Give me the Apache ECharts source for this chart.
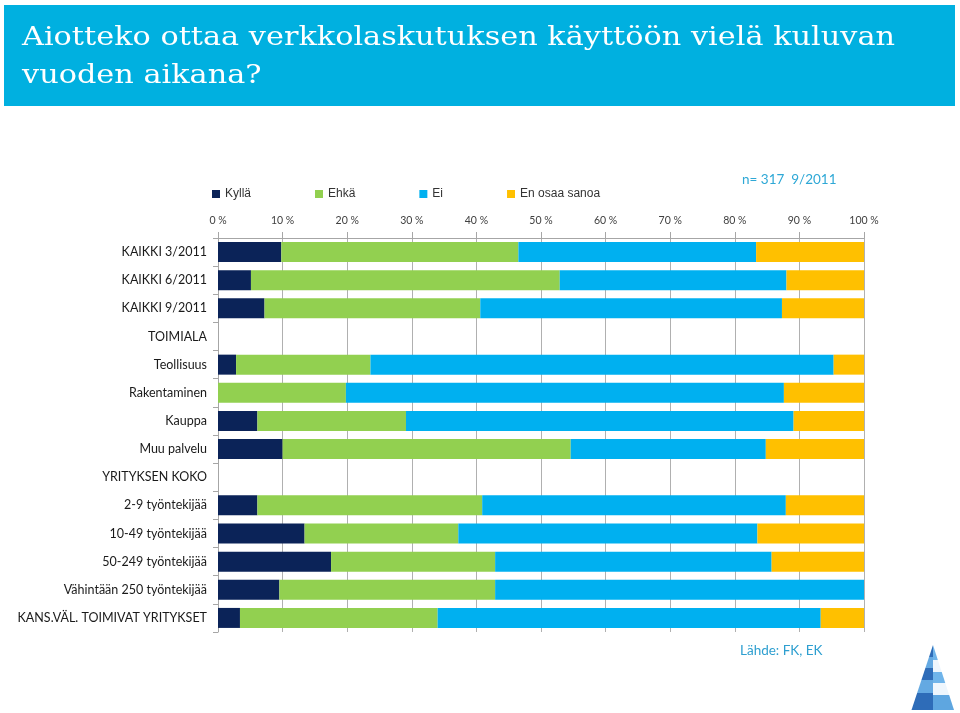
<!DOCTYPE html>
<html>
<head>
<meta charset="utf-8">
<script src="https://cdn.jsdelivr.net/npm/echarts@6/dist/echarts.min.js"></script>
<style>
html,body{margin:0;padding:0;background:#fff;}
#c{width:960px;height:713px;}
</style>
</head>
<body>
<div id="c"></div>
<script>
var categories = ['KAIKKI 3/2011','KAIKKI 6/2011','KAIKKI 9/2011','TOIMIALA','Teollisuus','Rakentaminen','Kauppa','Muu palvelu','YRITYKSEN KOKO','2-9 työntekijää','10-49 työntekijää','50-249 työntekijää','Vähintään 250 työntekijää','KANS.VÄL. TOIMIVAT YRITYKSET'];
var seriesNames = ['Kyllä','Ehkä','Ei','En osaa sanoa'];
var kylla = [9.8, 5.1, 7.2, '-', 2.8, 0, 6.1, 10.0, '-', 6.1, 13.4, 17.5, 9.5, 3.4];
var ehka  = [36.7, 47.8, 33.4, '-', 20.8, 19.8, 23.0, 44.6, '-', 34.8, 23.8, 25.4, 33.4, 30.6];
var ei    = [36.8, 35.1, 46.7, '-', 71.7, 67.8, 60.0, 30.2, '-', 47.0, 46.3, 42.8, 57.1, 59.3];
var eos   = [16.7, 12.0, 12.7, '-', 4.7, 12.4, 10.9, 15.2, '-', 12.1, 16.5, 14.3, 0, 6.7];
var colors = ['#0b2358','#92d050','#00b0f0','#ffc000'];
var titleLine1 = 'Aiotteko ottaa verkkolaskutuksen käyttöön vielä kuluvan';
var titleLine2 = 'vuoden aikana?';

var chart = echarts.init(document.getElementById('c'), null, {renderer:'canvas'});

// title horizontal fit
var titleFont = '26px "DejaVu Serif"';
var ctx = document.createElement('canvas').getContext('2d');
ctx.font = titleFont;
var w1 = ctx.measureText(titleLine1).width;
var sx = 873 / w1;

// pyramid logo (decoration)
var AX=933, AY=645, BY=710, LX=911.5, RX=954, MX=933;
function at(bx,y){return AX+(bx-AX)*(y-AY)/(BY-AY);}
function face(y0,y1,side,color){
  var pts = side==='L' ? [[at(LX,y0),y0],[at(MX,y0),y0],[at(MX,y1),y1],[at(LX,y1),y1]]
                       : [[at(MX,y0),y0],[at(RX,y0),y0],[at(RX,y1),y1],[at(MX,y1),y1]];
  return {type:'polygon', shape:{points:pts}, style:{fill:color}, silent:true};
}
var logo = [];
var lb = [645,657,668,680,693,710], lc = ['#2e6cb8','#64a9e2','#2e6cb8','#64a9e2','#2e6cb8'];
var rb = [645,660,672,683,695,710], rc = ['#6fb4ea','#eef6fd','#6fb4ea','#eef6fd','#5ea6e0'];
for (var i=0;i<5;i++){ logo.push(face(lb[i],lb[i+1],'L',lc[i])); logo.push(face(rb[i],rb[i+1],'R',rc[i])); }

var series = [kylla, ehka, ei, eos].map(function(d,i){
  return {name:seriesNames[i], type:'bar', stack:'total', data:d, barWidth:20,
    itemStyle:{color:colors[i]}, emphasis:{disabled:true}};
});

chart.setOption({
  animation:false,
  backgroundColor:'#fff',
  color:colors,
  legend:{
    data:seriesNames, left:207, top:183, icon:'rect', itemWidth:8, itemHeight:8, itemGap:64,
    textStyle:{fontFamily:'Liberation Sans', fontSize:12, color:'#333'}
  },
  grid:{left:218, right:96, top:238, bottom:81, containLabel:false},
  xAxis:{
    type:'value', position:'top', min:0, max:100, interval:10,
    axisLine:{show:true, lineStyle:{color:'#a6a6a6'}},
    axisTick:{show:true, length:6, lineStyle:{color:'#a6a6a6'}},
    splitLine:{show:true, lineStyle:{color:'#b0b0b0', width:1}},
    axisLabel:{formatter:function(v){return v+' %';}, margin:12, fontFamily:'Lato', fontSize:10.5, color:'#404040'}
  },
  yAxis:{
    type:'category', data:categories, inverse:true,
    axisLine:{show:true, lineStyle:{color:'#a6a6a6'}},
    axisTick:{show:true, length:5, lineStyle:{color:'#a6a6a6'}},
    axisLabel:{margin:11, fontFamily:'Lato', fontSize:12.5, color:'#1a1a1a'}
  },
  series:series,
  graphic:[
    {type:'rect', shape:{x:4,y:5,width:951,height:101}, style:{fill:'#00b0e0'}, silent:true, z:-1},
    {type:'text', x:22, y:38, scaleX:sx, style:{text:titleLine1, fill:'#fff', font:titleFont, verticalAlign:'middle'}},
    {type:'text', x:22, y:76, scaleX:sx, style:{text:titleLine2, fill:'#fff', font:titleFont, verticalAlign:'middle'}},
    {type:'text', x:742, y:180, style:{text:'n= 317  9/2011', fill:'#2ea8d6', font:'13.5px Lato', verticalAlign:'middle'}},
    {type:'text', x:740, y:651, style:{text:'Lähde: FK, EK', fill:'#2e9fd0', font:'13.5px Lato', verticalAlign:'middle'}}
  ].concat(logo)
});
</script>
</body>
</html>
